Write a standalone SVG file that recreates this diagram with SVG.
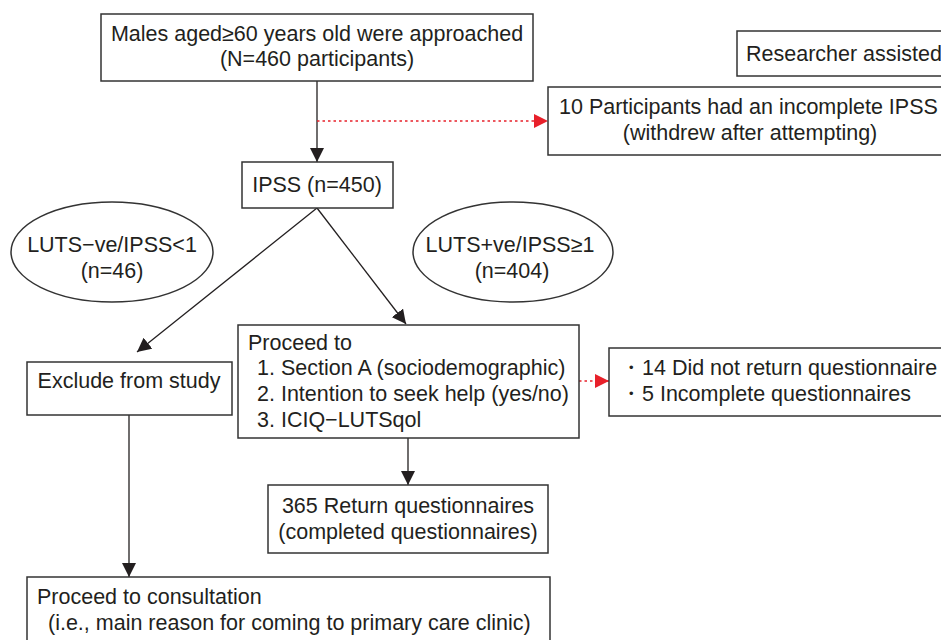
<svg xmlns="http://www.w3.org/2000/svg" width="941" height="640" viewBox="0 0 941 640">
<defs>
<style>
.box{fill:#fff;stroke:#333;stroke-width:1.5}
.t{font-family:"Liberation Sans",Arial,sans-serif;font-size:21.5px;fill:#231f20}
.m{text-anchor:middle}
.ln{stroke:#231f20;stroke-width:1.3;fill:none}
.rd{stroke:#e8202a;stroke-width:1.5;fill:none;stroke-dasharray:2.5 3}
</style>
<marker id="ah" viewBox="0 0 12 12" refX="12" refY="6" markerWidth="14" markerHeight="14" markerUnits="userSpaceOnUse" orient="auto">
<path d="M0,0 L12,6 L0,12 z" fill="#231f20"/>
</marker>
<marker id="ahr" viewBox="0 0 12 12" refX="12" refY="6" markerWidth="14" markerHeight="14" markerUnits="userSpaceOnUse" orient="auto">
<path d="M0,0 L12,6 L0,12 z" fill="#e8202a"/>
</marker>
</defs>
<rect width="941" height="640" fill="#fff"/>
<g id="connectors">
<line class="ln" x1="317" y1="81" x2="317" y2="162" marker-end="url(#ah)"/>
<line class="rd" x1="317" y1="121" x2="548" y2="121" marker-end="url(#ahr)"/>
<line class="ln" x1="317" y1="208" x2="137" y2="352" marker-end="url(#ah)"/>
<line class="ln" x1="317" y1="208" x2="406" y2="324" marker-end="url(#ah)"/>
<line class="ln" x1="408" y1="438" x2="408" y2="485" marker-end="url(#ah)"/>
<line class="rd" x1="579" y1="381" x2="609" y2="381" marker-end="url(#ahr)"/>
<line class="ln" x1="129" y1="415" x2="129" y2="577" marker-end="url(#ah)"/>
</g>
<g id="approached">
<rect class="box" x="101" y="14" width="432" height="67"/>
<text class="t m" x="317" y="41">Males aged≥60 years old were approached</text>
<text class="t m" x="317" y="66">(N=460 participants)</text>
</g>
<g id="researcher">
<rect class="box" x="737" y="31" width="210" height="45"/>
<text class="t" x="746" y="61" font-size="21">Researcher assisted</text>
</g>
<g id="incomplete-ipss">
<rect class="box" x="548" y="87" width="400" height="68"/>
<text class="t" x="559" y="114">10 Participants had an incomplete IPSS</text>
<text class="t m" x="750" y="140">(withdrew after attempting)</text>
</g>
<g id="ipss">
<rect class="box" x="242" y="162" width="151" height="46"/>
<text class="t m" x="317" y="192">IPSS (n=450)</text>
</g>
<g id="luts-neg">
<ellipse class="box" cx="112" cy="252" rx="101" ry="50"/>
<text class="t m" x="112" y="252">LUTS−ve/IPSS&lt;1</text>
<text class="t m" x="112" y="278">(n=46)</text>
</g>
<g id="luts-pos">
<ellipse class="box" cx="513" cy="252" rx="100" ry="50"/>
<text class="t m" x="510" y="252">LUTS+ve/IPSS≥1</text>
<text class="t m" x="512" y="278">(n=404)</text>
</g>
<g id="proceed">
<rect class="box" x="238" y="325" width="341" height="113"/>
<text class="t" x="248" y="350">Proceed to</text>
<text class="t" x="257" y="375">1. Section A (sociodemographic)</text>
<text class="t" x="257" y="401">2. Intention to seek help (yes/no)</text>
<text class="t" x="257" y="427">3. ICIQ−LUTSqol</text>
</g>
<g id="not-returned">
<rect class="box" x="609" y="348" width="340" height="68"/>
<text class="t" x="620" y="375">・14 Did not return questionnaire</text>
<text class="t" x="620" y="401">・5 Incomplete questionnaires</text>
</g>
<g id="exclude">
<rect class="box" x="27" y="362" width="205" height="53"/>
<text class="t m" x="129" y="388">Exclude from study</text>
</g>
<g id="returned">
<rect class="box" x="268" y="485" width="280" height="68"/>
<text class="t m" x="408" y="513">365 Return questionnaires</text>
<text class="t m" x="408" y="539">(completed questionnaires)</text>
</g>
<g id="consultation">
<rect class="box" x="27" y="577" width="523" height="80"/>
<text class="t" x="37" y="604">Proceed to consultation</text>
<text class="t" x="48" y="630">(i.e., main reason for coming to primary care clinic)</text>
</g>
</svg>
